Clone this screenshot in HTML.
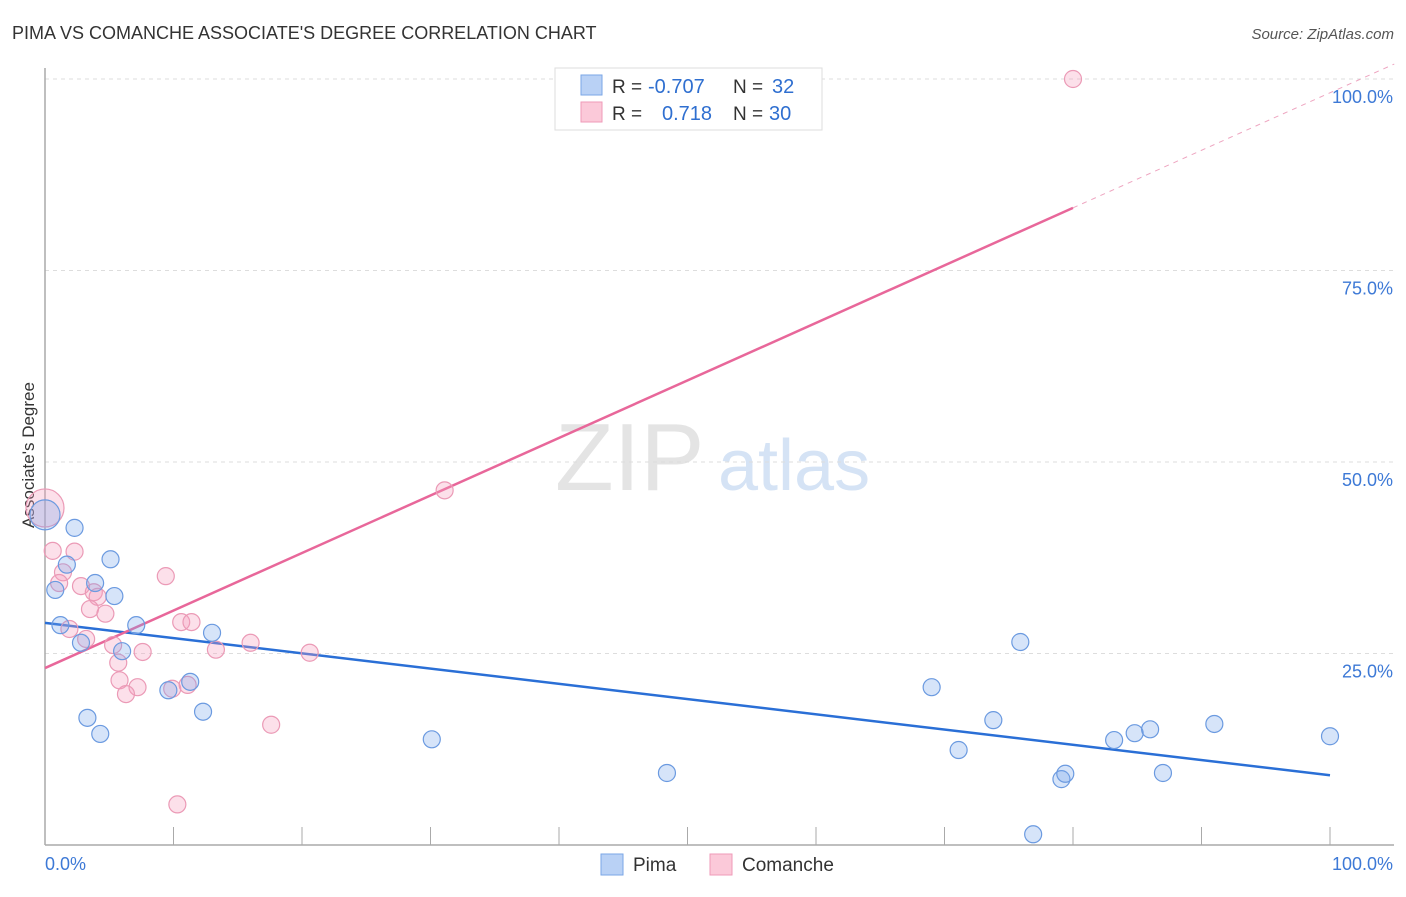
<!DOCTYPE html>
<html><head><meta charset="utf-8">
<style>
body{margin:0;background:#fff;font-family:"Liberation Sans",sans-serif;}
svg text{font-family:"Liberation Sans",sans-serif;}
</style></head>
<body>
<svg id="chart" width="1406" height="892" xmlns="http://www.w3.org/2000/svg">
<text x="12" y="39" font-size="18" fill="#333">PIMA VS COMANCHE ASSOCIATE'S DEGREE CORRELATION CHART</text>
<text x="1394" y="39" font-size="15" fill="#555" text-anchor="end" font-style="italic">Source: ZipAtlas.com</text>
<text x="555" y="490" font-size="96" fill="#e4e4e4" font-family="Liberation Serif,serif">ZIP</text>
<text x="718" y="490" font-size="72" fill="#d5e3f5">atlas</text>
<text transform="translate(34,455) rotate(-90)" font-size="17" fill="#333" text-anchor="middle">Associate's Degree</text>
<g id="grid"></g>
<g id="lines"></g>
<g id="points"></g>
<g>
<rect x="555" y="68" width="267" height="62" fill="#fff" stroke="#ddd"/>
<rect x="581" y="75" width="21" height="20" fill="#b9d1f5" stroke="#7aa6e6"/>
<rect x="581" y="102" width="21" height="20" fill="#fbc9d9" stroke="#ef9ab8"/>
<text x="612" y="93" font-size="19" fill="#333">R =</text>
<text x="648" y="93" font-size="20" fill="#2f6fd0">-0.707</text>
<text x="733" y="93" font-size="19" fill="#333">N =</text>
<text x="772" y="93" font-size="20" fill="#2f6fd0">32</text>
<text x="612" y="120" font-size="19" fill="#333">R =</text>
<text x="662" y="120" font-size="20" fill="#2f6fd0">0.718</text>
<text x="733" y="120" font-size="19" fill="#333">N =</text>
<text x="769" y="120" font-size="20" fill="#2f6fd0">30</text>
</g>
<g>
<rect x="601" y="854" width="22" height="21" fill="#b9d1f5" stroke="#7aa6e6"/>
<text x="633" y="871" font-size="19" fill="#333">Pima</text>
<rect x="710" y="854" width="22" height="21" fill="#fbc9d9" stroke="#ef9ab8"/>
<text x="742" y="871" font-size="19" fill="#333">Comanche</text>
</g>
</svg>
<script>
const pimaX=[0,2.3,1.7,5.1,0.8,3.9,5.4,1.2,2.8,7.1,6.0,13.0,9.6,11.3,3.3,4.3,12.3,30.1,48.4,69.0,73.8,71.1,75.9,76.9,79.1,79.4,83.2,84.8,86.0,87.0,91.0,100];
const pimaY=[43.1,41.4,36.6,37.3,33.3,34.2,32.5,28.7,26.4,28.7,25.3,27.7,20.2,21.3,16.6,14.5,17.4,13.8,9.4,20.6,16.3,12.4,26.5,1.4,8.6,9.3,13.7,14.6,15.1,9.4,15.8,14.2];
const comX=[0,0.6,2.3,1.4,1.1,2.8,3.8,4.1,3.5,4.7,1.9,3.2,5.3,7.6,13.3,16.0,20.6,9.4,10.6,11.4,5.7,5.8,7.2,6.3,9.9,11.1,17.6,10.3,31.1,80.0];
const comY=[44.0,38.4,38.3,35.6,34.2,33.8,33.0,32.4,30.8,30.2,28.2,26.9,26.1,25.2,25.5,26.4,25.1,35.1,29.1,29.1,23.8,21.5,20.6,19.7,20.4,20.9,15.7,5.3,46.3,100];
const pimaTrend=[29.0,-0.199];
const comTrend=[23.1,0.751];
const yTicks=[25,50,75,100];
const yTickLabels=["25.0%","50.0%","75.0%","100.0%"];
const xTickLabels=["0.0%","100.0%"];
const NS="http://www.w3.org/2000/svg";
const X0=45,X1=1330,Y0=845,Y1=79;
const sx=v=>X0+(X1-X0)*v/100;
const sy=v=>Y0-(Y0-Y1)*v/100;
function mk(tag,attrs,parent){const e=document.createElementNS(NS,tag);for(const k in attrs)e.setAttribute(k,attrs[k]);parent.appendChild(e);return e;}
const grid=document.getElementById('grid');
yTicks.forEach((t,i)=>{
  const l=mk('line',{x1:X0,x2:1394,y1:sy(t),y2:sy(t),stroke:'#ddd','stroke-dasharray':'4,4'},grid);
  
  
  const tx=mk('text',{x:1393,y:sy(t)+24,'font-size':18,fill:'#3d79d6','text-anchor':'end'},grid);
  tx.textContent=yTickLabels[i];
  
  
});
const ax=mk('line',{x1:X0,x2:X0,y1:68,y2:Y0,stroke:'#aaa','stroke-width':1.5},grid);


const bx=mk('line',{x1:X0,x2:1394,y1:Y0,y2:Y0,stroke:'#aaa','stroke-width':1.5},grid);


for(let i=0;i<=10;i++){
  const t=mk('line',{x1:sx(i*10),x2:sx(i*10),y1:Y0,y2:827,stroke:'#aaa'},grid);
  
  
}
[[0,'start',45],[100,'end',1393]].forEach((d,i)=>{
  const tx=mk('text',{x:d[2],y:870,'font-size':18,fill:'#3d79d6','text-anchor':d[1]},grid);
  tx.textContent=xTickLabels[i];
  
  
});
const lines=document.getElementById('lines');
const pl=mk('line',{x1:sx(0),y1:sy(pimaTrend[0]),x2:sx(100),y2:sy(pimaTrend[0]+pimaTrend[1]*100),stroke:'#2a6fd6','stroke-width':2.5},lines);


const cl=mk('line',{x1:sx(0),y1:sy(comTrend[0]),x2:sx(80),y2:sy(comTrend[0]+comTrend[1]*80),stroke:'#e8679a','stroke-width':2.5},lines);


const cd=mk('line',{x1:sx(80),y1:sy(comTrend[0]+comTrend[1]*80),x2:sx(105),y2:sy(comTrend[0]+comTrend[1]*105),stroke:'#eea5c0','stroke-width':1,'stroke-dasharray':'5,5'},lines);


const pts=document.getElementById('points');
comX.forEach((x,i)=>{
  const c=mk('circle',{cx:sx(x),cy:sy(comY[i]),r:i===0?19:8.5,fill:'rgba(245,160,190,0.32)',stroke:'#eb9ab6','stroke-width':1.2},pts);
  
  
});
pimaX.forEach((x,i)=>{
  const c=mk('circle',{cx:sx(x),cy:sy(pimaY[i]),r:i===0?15:8.5,fill:'rgba(120,165,235,0.3)',stroke:'#6b9ae0','stroke-width':1.2},pts);
  
  
});
</script>
</body></html>
